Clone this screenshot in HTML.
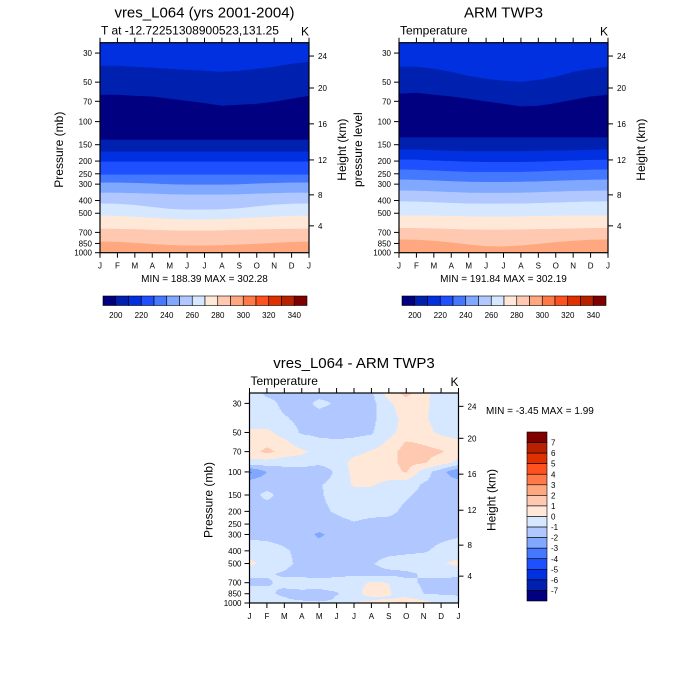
<!DOCTYPE html>
<html><head><meta charset="utf-8"><style>
body{margin:0;background:#fff}
svg{display:block}
text{font-family:"Liberation Sans",Arial,sans-serif;fill:#000}
</style></head><body>
<svg id="root" width="700" height="700" viewBox="0 0 700 700"></svg>
<script>
// ---------- DATA ----------
const months = ["J","F","M","A","M","J","J","A","S","O","N","D","J"];
const pTicks = [30,50,70,100,150,200,250,300,400,500,700,850,1000];
const hTicks = [24,20,16,12,8,4];
const hTickP = [31.6,55.4,104,196,362,624]; // pressure at which each height label sits
const cbLabelsTop = [200,220,240,260,280,300,320,340];
const cbLabelsDiff = [7,6,5,4,3,2,1,0,-1,-2,-3,-4,-5,-6,-7];
const palette = ["#000080","#0020b0","#0030e0","#1e50ff","#4478ff","#80a8ff","#b0c8ff","#d6e8ff","#ffe8d8","#ffc8b0","#ffa880","#ff7848","#ff5020","#e03000","#b82000","#800000"];
// band colour indices (top to bottom) for top panels
const bandColors = [2,1,0,1,2,3,4,5,6,7,8,9,10];
// contour boundaries (mb) per month, model
const modelBounds = [
 [37.7,37.7,38.3,39.0,39.7,40.4,41.1,41.9,41.1,39.7,38.3,36.4,35.1],
 [62.7,62.7,63.8,64.6,67.2,69.8,72.5,76.0,74.7,73.4,70.8,67.2,63.8],
 [138,138,138,138,138,138,138,138,138,138,138,138,138],
 [170,170,170,170,170,170,170,170,170,170,170,170,170],
 [203,203,203,203,203,203,203,203,203,203,203,203,203],
 [255,255,255,255,255,255,255,255,255,255,255,255,255],
 [293,293,295,298,302,304,304,304,302,298,295,293,293],
 [350,350,353,356,360,362,362,362,360,356,353,350,350],
 [423,425,435,450,465,471,471,468,460,445,432,425,423],
 [524,526,535,545,555,561,561,558,550,540,532,526,524],
 [658,660,665,672,678,681,681,678,672,668,663,660,658],
 [825,830,845,862,878,885,885,880,870,860,845,832,825]
];
const obsBounds = [
 [38.3,38.3,39.7,41.9,45.0,47.3,49.0,49.9,48.2,45.7,41.9,39.7,38.3],
 [61.5,60.5,62.7,64.6,67.2,70.5,73.4,76.9,76.0,72.5,68.4,64.6,62.7],
 [132.5,132.5,132.5,132.5,132.5,132.5,132.5,132.5,132.5,132.5,132.5,132.5,132.5],
 [164,164,166,168,169,169,169,169,168,167,166,165,164],
 [196,196,199,201,203,204,204,204,203,201,199,197,196],
 [233,234,237,240,243,243,243,243,241,238,236,234,233],
 [278,279,282,286,289,290,290,289,287,284,281,279,278],
 [337,338,342,346,350,351,351,350,347,343,340,338,337],
 [407,409,414,419,423,424,424,423,420,416,412,409,407],
 [521,522,524,527,530,532,532,530,528,525,523,522,521],
 [650,652,656,662,668,670,670,668,664,660,656,652,650],
 [797,800,815,840,870,895,900,885,860,835,815,800,797]
];
// difference field (K): rows = levels, cols = months
const diffLevels = [25,30,40,50,60,70,85,100,125,150,200,250,300,400,500,600,700,850,925,1000];
const diffVals = [
 [-0.5,-1.2,-1.3,-1.3,-1.3,-1.2,-1.2,-1.2,0.5,1.3,0.3,-0.5,-0.5],
 [-0.5,-0.7,-1.2,-1.3,-0.8,-1.1,-1.4,-1.3,-0.2,0.6,0.2,-0.4,-0.5],
 [-0.6,-0.7,-0.9,-1.2,-1.4,-1.4,-1.4,-1.2,-0.5,0.4,0.1,-0.3,-0.4],
 [0.2,0.3,-0.5,-1.1,-1.2,-1.2,-1.2,-1.1,-0.3,0.4,0.3,-0.2,-0.6],
 [0.3,0.7,0.3,-0.5,-0.8,-0.9,-0.8,-0.6,0.2,1.1,0.9,0.6,0.3],
 [0.5,1.3,0.6,0.2,-0.3,-0.6,-0.3,0.1,0.6,1.4,1.3,1.1,0.4],
 [-0.3,-0.5,-0.6,-0.6,-0.7,-0.5,0.3,0.5,0.7,1.3,1.1,0.5,-0.3],
 [-3.2,-2.0,-1.5,-1.4,-1.8,-0.8,0.3,0.4,0.6,1.1,-0.5,-1.6,-3.0],
 [-1.3,-1.3,-1.3,-1.3,-1.1,-0.6,0.1,0.1,-0.3,-0.6,-1.1,-1.3,-1.3],
 [-1.3,-0.8,-1.3,-1.3,-1.1,-0.7,-0.4,-0.4,-0.6,-0.9,-1.2,-1.3,-1.4],
 [-1.4,-1.4,-1.4,-1.3,-1.2,-0.9,-0.6,-0.7,-0.8,-1.2,-1.4,-1.4,-1.4],
 [-1.3,-1.3,-1.3,-1.3,-1.3,-1.3,-1.1,-1.3,-1.3,-1.3,-1.3,-1.3,-1.3],
 [-1.2,-1.2,-1.3,-1.5,-2.2,-1.5,-1.3,-1.3,-1.3,-1.3,-1.3,-1.2,-1.1],
 [-0.6,-0.7,-0.9,-1.2,-1.4,-1.4,-1.4,-1.4,-1.3,-1.2,-1.1,-0.8,-0.6],
 [0.3,-0.4,-0.8,-1.2,-1.3,-1.2,-1.2,-1.1,-0.6,-0.5,-0.4,-0.1,0.3],
 [-0.8,-0.9,-1.1,-1.3,-1.4,-1.3,-1.2,-1.3,-1.3,-1.2,-0.9,-0.8,-0.9],
 [-1.2,-1.1,-0.8,-0.5,-0.6,-0.5,-0.3,0.1,0.0,-0.8,-1.1,-1.2,-1.2],
 [-0.5,-0.8,-1.2,-1.3,-1.3,-1.1,-0.4,0.5,0.1,-0.6,-1.0,-1.1,-1.2],
 [-0.5,-0.6,-0.9,-1.3,-2.0,-0.8,-0.5,-0.3,-0.1,0.2,-0.3,-0.6,-0.7],
 [-0.4,-0.4,-0.5,-0.6,-0.5,-0.4,0.1,0.4,1.1,1.2,0.4,-0.3,-0.4]
];
// ---------- DRAWING ----------
const NS="http://www.w3.org/2000/svg";
const root=document.getElementById('root');
function el(tag,attrs,parent,txt){const e=document.createElementNS(NS,tag);for(const k in attrs)e.setAttribute(k,attrs[k]);if(txt!==undefined)e.textContent=txt;(parent||root).appendChild(e);return e;}
const PTOP=25,PBOT=1000;
function makeAxes(x0,y0,w,h){
  return {x:m=>x0+m*w/12, y:p=>y0+(Math.log(p)-Math.log(PTOP))/(Math.log(PBOT)-Math.log(PTOP))*h};
}
function drawFrame(g,x0,y0,w,h,ax,opts){
  el('rect',{x:x0,y:y0,width:w,height:h,fill:'none',stroke:'#000','stroke-width':1.2},g);
  months.forEach((m,i)=>{
    const x=ax.x(i);
    el('line',{x1:x,y1:y0,x2:x,y2:y0-5,stroke:'#000','stroke-width':1},g);
    el('line',{x1:x,y1:y0+h,x2:x,y2:y0+h+5,stroke:'#000','stroke-width':1},g);
    const t=el('text',{x:x,y:y0+h+16,'font-size':8,'text-anchor':'middle'},g,m);
    
    
  });
  pTicks.forEach(p=>{
    const y=ax.y(p);
    el('line',{x1:x0,y1:y,x2:x0-5,y2:y,stroke:'#000'},g);
    const t=el('text',{x:x0-8,y:y+3,'font-size':8,'text-anchor':'end'},g,p);
    
    
  });
  hTicks.forEach((hv,i)=>{
    const y=ax.y(hTickP[i]);
    el('line',{x1:x0+w,y1:y,x2:x0+w+5,y2:y,stroke:'#000'},g);
    const t=el('text',{x:x0+w+9,y:y+3,'font-size':8},g,hv);
    
    
  });
  const lt=el('text',{x:0,y:0,'font-size':12,'text-anchor':'middle',transform:`translate(${x0-37},${y0+h/2+2}) rotate(-90)`},g,opts.ylabel);
  
  
  const rt=el('text',{x:0,y:0,'font-size':12,'text-anchor':'middle',transform:`translate(${x0+w+37},${y0+h/2+2}) rotate(-90)`},g,'Height (km)');
  
  
  const ti=el('text',{x:x0+w/2,y:y0-25,'font-size':15,'text-anchor':'middle'},g,opts.title);
  
  
  const st=el('text',{x:x0+1,y:y0-8,'font-size':12},g,opts.sub);
  
  
  const kt=el('text',{x:x0+w,y:y0-7,'font-size':12,'text-anchor':'end'},g,'K');
  
  
}
function topPanel(name,x0,bounds,opts){
  const y0=42.7,w=209,h=210;
  const g=el('g',{},root);
  
  
  const ax=makeAxes(x0,y0,w,h);
  const topB=months.map(()=>PTOP), botB=months.map(()=>PBOT);
  const all=[topB,...bounds,botB];
  for(let b=0;b<all.length-1;b++){
    const up=all[b],lo=all[b+1];
    let pts=up.map((p,i)=>`${ax.x(i).toFixed(2)},${ax.y(p).toFixed(2)}`);
    pts=pts.concat(lo.map((p,i)=>`${ax.x(i).toFixed(2)},${ax.y(p).toFixed(2)}`).reverse());
    const poly=el('polygon',{points:pts.join(' '),fill:palette[bandColors[b]],stroke:palette[bandColors[b]],'stroke-width':0.5},g);
    
    
  }
  drawFrame(g,x0,y0,w,h,ax,opts);
  const mm=el('text',{x:x0+w/2,y:282,'font-size':10,'text-anchor':'middle'},g,opts.minmax);
  
  
  const cb=el('g',{},g);
  
  
  const cx0=x0+3,cw=204/16;
  palette.forEach((c,i)=>{
    const r=el('rect',{x:cx0+i*cw,y:296,width:cw,height:9.5,fill:c,stroke:'#000','stroke-width':0.6},cb);
    
    
  });
  cbLabelsTop.forEach((v,i)=>{
    const t=el('text',{x:cx0+(1+2*i)*cw,y:318,'font-size':8,'text-anchor':'middle'},cb,v);
    
    
  });
}
topPanel('model-panel',100,modelBounds,{title:'vres_L064 (yrs 2001-2004)',sub:'T at -12.72251308900523,131.25',ylabel:'Pressure (mb)',minmax:'MIN = 188.39 MAX = 302.28'});
topPanel('obs-panel',399,obsBounds,{title:'ARM TWP3',sub:'Temperature',ylabel:'pressure level',minmax:'MIN = 191.84 MAX = 302.19'});

// ---------- difference panel ----------
(function(){
  const x0=249.5,y0=393,w=209,h=210;
  const g=el('g',{},root);
  
  
  const ax=makeAxes(x0,y0,w,h);
  const lp=diffLevels.map(Math.log);
  const lt=Math.log(PTOP),lb=Math.log(PBOT);
  const colorFor=v=>{let idx=Math.floor(v)+8;idx=Math.max(0,Math.min(15,idx));return palette[idx];};
  const step=1;
  for(let py=0;py<h;py+=step){
    const l=lt+(py+0.5)/h*(lb-lt);
    let k=0;while(k<lp.length-2&&lp[k+1]<l)k++;
    let fy=(l-lp[k])/(lp[k+1]-lp[k]);fy=Math.max(0,Math.min(1,fy));
    let runStart=0,runCol=null;
    for(let px=0;px<=w;px++){
      let col=null;
      if(px<w){
        const m=(px+0.5)/w*12;let j=Math.min(11,Math.floor(m));const fx=m-j;
        const a=diffVals[k][j]*(1-fx)+diffVals[k][j+1]*fx;
        const b=diffVals[k+1][j]*(1-fx)+diffVals[k+1][j+1]*fx;
        col=colorFor(a*(1-fy)+b*fy);
      }
      if(col!==runCol){
        if(runCol!==null){
          const r=el('rect',{x:x0+runStart,y:y0+py,width:px-runStart+0.3,height:step+0.3,fill:runCol},g);
          
          
        }
        runStart=px;runCol=col;
      }
    }
  }
  drawFrame(g,x0,y0,w,h,ax,{title:'vres_L064 - ARM TWP3',sub:'Temperature',ylabel:'Pressure (mb)'});
  const mm=el('text',{x:486,y:414,'font-size':10},g,'MIN =  -3.45 MAX =   1.99');
  
  
  const cb=el('g',{},g);
  
  
  const bh=169/16;
  palette.slice().reverse().forEach((c,i)=>{
    const r=el('rect',{x:527,y:432+i*bh,width:20,height:bh,fill:c,stroke:'#000','stroke-width':0.6},cb);
    
    
  });
  cbLabelsDiff.forEach((v,i)=>{
    const t=el('text',{x:551,y:432+(i+1)*bh+3,'font-size':8},cb,v);
    
    
  });
})();
</script>
</body></html>
